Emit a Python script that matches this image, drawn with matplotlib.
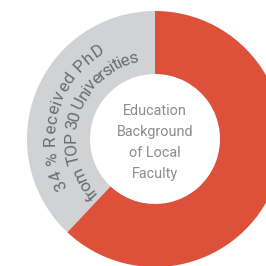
import numpy as np
import matplotlib
matplotlib.use("Agg")
import matplotlib.pyplot as plt
from matplotlib import font_manager as fm
from matplotlib.font_manager import FontProperties
from matplotlib.ft2font import LoadFlags

# data
labels = ["Top 30", "Other"]
shares = [38, 62]
colors = ["#d1d2d4", "#dd513b"]
ring_lines = ["34 % Received PhD", "from TOP 30 Universities"]
center_lines = ["Education", "Background", "of Local", "Faculty"]

DPI = 100
fig = plt.figure(figsize=(2.66, 2.66), dpi=DPI)
ax = fig.add_axes([0, 0, 1, 1])

cx, cy = 155, -139
r_out, r_in = 128, 65
ax.pie(shares, colors=colors, startangle=90, counterclock=True,
       center=(cx, cy), radius=r_out, frame=True,
       wedgeprops=dict(width=r_out - r_in, linewidth=0))
ax.set_xlim(0, 266)
ax.set_ylim(-266, 0)
ax.set_aspect("equal")
ax.axis("off")

fam = ["Roboto", "Liberation Sans", "DejaVu Sans"]


def advances(s, prop):
    # per-character advance widths in pixels
    font = fm.get_font(fm.findfont(prop))
    font.set_size(prop.get_size_in_points(), DPI)
    out = []
    for ch in s:
        g = font.load_char(ord(ch), flags=LoadFlags.NO_HINTING)
        out.append(g.linearHoriAdvance / 65536)
    return np.array(out)


def arc_text(s, radius, a_first, a_last, prop, color):
    adv = advances(s, prop)
    cents = np.cumsum(adv) - adv / 2
    span = np.radians(a_first - a_last) * radius
    extra = (span - (cents[-1] - cents[0])) / (len(s) - 1)
    cents = cents - cents[0] + extra * np.arange(len(s))
    for ch, c in zip(s, cents):
        if ch == " ":
            continue
        th = np.radians(a_first) - c / radius
        ax.text(cx + radius * np.cos(th), cy + radius * np.sin(th), ch,
                fontproperties=prop, color=color,
                rotation=np.degrees(th) - 90, rotation_mode="anchor",
                ha="center", va="baseline")


ring_prop = FontProperties(family=fam, size=12.5)
arc_text(ring_lines[0], 100, 206, 123, ring_prop, "#6c6d70")
arc_text(ring_lines[1], 79, 222, 105, ring_prop, "#6c6d70")

# centre label, sized so "Background" is about 77 px wide
cprop = FontProperties(family=fam, size=10)
cprop.set_size(10 * 77 / advances("Background", cprop).sum())
for line, base in zip(center_lines, [115, 136, 157, 178]):
    ax.text(cx, -base, line, fontproperties=cprop, color="#8b8c8f",
            ha="center", va="baseline")

fig.savefig("out.png", dpi=DPI)
